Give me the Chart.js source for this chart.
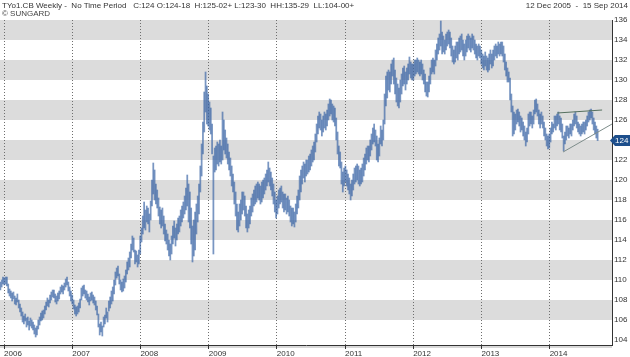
<!DOCTYPE html>
<html><head><meta charset="utf-8">
<script src="https://cdn.jsdelivr.net/npm/chart.js@4.4.1/dist/chart.umd.min.js"></script>
<style>
html,body{margin:0;padding:0;background:#fff;}
#wrap{position:relative;width:630px;height:357px;overflow:hidden;}
canvas{position:absolute;left:0;top:0;}
.hdr{position:absolute;font-family:"Liberation Sans",Arial,sans-serif;font-size:8px;color:#333;white-space:pre;line-height:9px;}
</style></head><body>
<div id="wrap">
<canvas id="c" width="630" height="357"></canvas>
<div class="hdr" style="left:2px;top:1px;">TYo1.CB Weekly -  No Time Period   C:124 O:124-18  H:125-02+ L:123-30  HH:135-29  LL:104-00+</div>
<div class="hdr" style="left:2px;top:9px;color:#444;">© SUNGARD</div>
<div class="hdr" style="right:2px;top:1px;">12 Dec 2005  -  15 Sep 2014</div>
</div>
<script>
// Weekly [low, high] ranges, one entry per week, starting at the given Monday
const y2005 = [[109.0,109.8],[109.3,110.0],[109.6,110.3]];
const y2006 = [[109.5,110.2],[109.6,110.3],[109.4,110.3],[108.7,109.6],[108.4,109.1],[108.2,108.9],[107.9,108.7],[108.1,108.8],[107.6,108.4],[107.5,108.2],[107.8,108.6],[107.2,108.0],[106.8,107.6],[106.4,107.2],[105.8,106.8],[105.6,106.4],[105.9,106.6],[105.3,106.2],[105.5,106.3],[105.0,105.9],[105.4,106.2],[105.2,106.0],[105.0,105.8],[104.6,105.5],[104.3,105.2],[104.5,105.4],[105.1,106.0],[105.5,106.3],[105.9,106.7],[106.0,106.9],[106.2,107.0],[106.6,107.4],[107.0,107.8],[107.4,108.2],[107.3,108.0],[107.7,108.5],[108.0,108.8],[108.3,109.0],[108.2,109.0],[107.8,108.6],[107.6,108.4],[107.9,108.7],[108.1,108.9],[108.6,109.3],[108.8,109.5],[108.6,109.4],[109.0,109.7],[109.3,110.1],[109.5,110.3],[108.9,109.8],[108.4,109.3],[107.9,108.9]];
const y2007 = [[107.6,108.5],[107.1,108.0],[106.6,107.5],[106.4,107.3],[106.6,107.4],[106.8,107.7],[107.2,108.1],[108.0,109.2],[108.4,109.4],[108.6,109.5],[108.2,109.0],[108.0,108.9],[107.8,108.6],[107.5,108.3],[107.9,108.7],[108.0,108.8],[107.7,108.5],[107.5,108.3],[107.0,107.9],[106.5,107.4],[105.3,106.6],[104.5,105.6],[104.8,105.8],[104.4,105.4],[105.3,106.3],[105.6,106.5],[106.2,107.2],[105.8,106.8],[106.9,107.9],[107.2,108.3],[107.6,108.9],[107.9,109.3],[108.6,110.0],[109.5,110.8],[110.2,111.2],[110.4,111.4],[109.6,110.6],[109.0,110.0],[108.8,109.8],[108.9,110.1],[109.2,110.4],[109.8,111.0],[110.6,111.8],[111.0,112.2],[111.3,112.8],[112.2,113.6],[113.0,114.4],[112.8,114.2],[111.6,113.0],[111.8,112.9],[111.3,112.5],[111.6,113.0]];
const y2008 = [[112.6,114.4],[113.8,115.2],[114.6,116.4],[115.2,117.8],[115.0,117.0],[115.8,117.4],[115.6,117.2],[114.8,116.6],[116.0,117.9],[117.4,120.0],[118.6,121.7],[118.0,121.0],[117.6,119.6],[117.2,119.0],[116.4,118.2],[115.6,117.3],[115.2,117.0],[115.4,117.2],[114.6,116.4],[113.9,115.6],[113.6,115.0],[113.0,114.6],[112.4,114.0],[112.0,113.6],[112.6,114.4],[113.6,115.4],[114.2,115.9],[113.4,115.2],[114.0,115.6],[114.6,116.2],[114.8,116.4],[115.4,117.0],[115.8,117.4],[116.2,117.8],[116.6,118.4],[117.0,119.2],[117.4,120.5],[115.8,119.6],[115.2,118.8],[113.6,117.2],[111.8,115.4],[112.4,116.0],[113.0,116.8],[114.6,117.6],[115.8,118.4],[116.6,119.6],[118.8,121.4],[120.4,123.6],[122.6,125.8],[124.8,128.8],[126.8,130.8],[125.6,129.4]];
const y2009 = [[125.4,128.6],[125.0,127.8],[124.6,127.2],[122.6,125.6],[112.6,122.4],[120.8,123.2],[121.0,123.4],[121.6,123.8],[121.4,123.6],[121.8,124.0],[121.6,123.4],[122.0,126.8],[123.0,126.0],[122.6,125.0],[122.2,124.2],[121.6,123.6],[121.0,122.8],[120.4,122.2],[119.4,121.4],[118.8,120.6],[117.6,119.8],[116.4,118.8],[115.0,117.6],[114.8,116.8],[115.4,117.6],[116.0,118.0],[116.6,118.8],[117.0,118.8],[116.4,118.4],[115.2,117.4],[114.8,116.6],[115.2,117.0],[115.6,117.4],[116.4,118.2],[116.8,118.6],[117.4,119.0],[117.6,119.4],[117.8,119.6],[118.2,119.8],[118.0,119.6],[117.6,119.4],[117.8,119.8],[118.2,120.0],[118.6,120.2],[119.0,120.6],[119.4,121.0],[119.8,121.8],[119.4,121.2],[119.0,120.8],[118.4,120.2],[117.6,119.6],[116.8,118.8]];
const y2010 = [[116.2,118.0],[116.6,118.4],[117.2,119.0],[117.6,119.2],[117.8,119.4],[117.2,118.8],[116.8,118.6],[117.0,118.6],[116.6,118.2],[116.8,118.4],[116.4,118.0],[115.8,117.4],[115.4,117.2],[115.6,117.2],[115.3,116.8],[115.8,117.6],[116.6,118.4],[117.2,119.0],[118.0,120.4],[118.8,121.0],[119.6,121.4],[120.2,121.8],[119.8,121.6],[120.4,122.0],[120.6,122.0],[120.8,122.4],[121.0,122.6],[121.4,123.0],[121.8,123.4],[122.0,123.8],[122.8,124.6],[123.8,125.6],[124.6,126.4],[125.2,126.8],[125.0,126.6],[124.4,126.0],[124.8,126.4],[125.2,126.8],[125.0,126.6],[125.4,127.0],[126.0,127.6],[126.4,128.1],[126.6,128.0],[126.0,127.6],[125.8,127.4],[125.4,127.2],[124.0,126.2],[122.6,124.8],[121.4,123.4],[121.2,122.8],[119.6,121.8],[118.8,120.8]];
const y2011 = [[119.4,121.2],[119.8,121.4],[119.4,121.0],[119.0,120.6],[118.6,120.2],[118.0,119.6],[118.4,120.0],[119.0,120.6],[119.6,121.2],[119.8,121.4],[120.0,121.6],[119.6,121.4],[119.4,121.0],[119.6,121.2],[119.8,121.6],[120.4,122.2],[121.0,122.6],[121.6,123.2],[122.0,123.4],[121.8,123.4],[122.4,124.0],[123.0,124.6],[123.6,125.2],[123.8,125.6],[123.4,125.0],[122.0,124.4],[121.8,123.6],[122.4,124.2],[123.6,125.4],[123.4,125.0],[124.0,126.0],[125.6,128.6],[127.4,130.4],[128.2,130.8],[129.0,131.0],[128.8,130.8],[129.6,131.6],[130.4,132.0],[129.6,132.2],[128.6,131.0],[127.8,130.2],[127.4,129.6],[127.2,129.2],[127.8,130.0],[128.6,130.6],[129.4,131.2],[129.6,131.4],[129.0,130.8],[129.6,131.2],[130.0,131.6],[130.6,132.3],[130.2,131.8],[130.0,131.6]];
const y2012 = [[130.0,131.6],[130.4,132.0],[130.6,132.0],[130.8,132.2],[130.6,132.0],[130.4,131.8],[130.6,132.0],[130.0,131.6],[129.6,131.0],[128.8,130.6],[128.4,129.8],[128.3,129.8],[128.8,130.4],[129.6,131.2],[130.6,132.0],[130.8,132.2],[130.6,132.0],[131.4,133.0],[132.0,133.6],[132.6,134.2],[133.0,134.6],[133.4,135.9],[132.6,134.8],[132.8,134.4],[132.6,134.0],[133.0,134.6],[133.4,134.8],[133.6,135.0],[133.2,134.8],[132.4,134.2],[131.8,133.4],[131.6,133.0],[131.8,133.4],[132.2,133.8],[132.0,133.8],[132.6,134.2],[132.8,134.4],[133.0,134.6],[132.4,134.0],[132.0,133.6],[132.4,134.0],[132.8,134.4],[133.2,134.6],[133.0,134.4],[132.8,134.2],[133.2,134.6],[133.0,134.4],[132.6,134.0],[132.2,133.6],[132.0,133.4],[132.4,133.6],[132.2,133.4]];
const y2013 = [[131.6,133.0],[131.2,132.6],[131.0,132.4],[131.4,132.8],[131.0,132.4],[130.8,132.2],[131.0,132.6],[131.6,133.0],[131.2,132.6],[131.4,133.0],[132.0,133.4],[132.4,133.6],[132.2,133.4],[132.6,133.8],[132.4,133.6],[132.6,133.8],[132.4,133.8],[131.8,133.4],[131.0,132.6],[130.4,131.8],[129.8,131.2],[129.8,130.8],[128.0,130.2],[126.8,128.6],[124.4,127.4],[124.6,126.8],[125.0,126.6],[125.6,127.0],[125.8,127.1],[125.4,126.8],[124.8,126.4],[125.0,126.2],[124.4,125.8],[124.0,125.4],[123.4,124.8],[123.8,125.2],[124.6,126.6],[125.4,126.8],[125.6,126.8],[125.2,126.4],[125.6,127.0],[126.6,128.0],[126.8,128.1],[126.4,127.6],[125.6,127.0],[125.2,126.6],[125.6,126.8],[125.2,126.4],[124.4,125.8],[124.0,125.2],[123.4,124.6],[123.1,124.4]];
const y2014 = [[123.2,124.6],[123.8,125.2],[124.6,125.8],[124.8,125.6],[125.2,126.4],[125.0,126.4],[125.4,126.6],[125.6,126.8],[125.0,126.4],[124.8,126.2],[124.2,125.6],[122.9,124.4],[123.6,124.8],[124.0,125.4],[124.4,125.4],[124.2,125.2],[124.6,125.6],[124.4,125.6],[125.0,126.0],[125.4,126.6],[125.6,126.8],[125.2,126.4],[124.8,125.8],[124.6,125.6],[124.4,125.4],[124.6,125.6],[124.8,125.8],[124.6,125.8],[125.0,126.0],[125.4,126.4],[125.8,126.8],[126.0,127.0],[126.2,127.1],[125.6,126.8],[125.0,126.2],[124.6,125.8],[124.2,125.4],[123.94,125.08]];

const segments = [
  ['2005-12-12', y2005], ['2006-01-02', y2006], ['2007-01-01', y2007],
  ['2007-12-31', y2008], ['2008-12-29', y2009], ['2009-12-28', y2010],
  ['2010-12-27', y2011], ['2012-01-02', y2012], ['2012-12-31', y2013],
  ['2013-12-30', y2014]
];

const yearLabels = ['2006','2007','2008','2009','2010','2011','2012','2013','2014'];
const yTickValues = [104,106,108,110,112,114,116,118,120,122,124,126,128,130,132,134,136];
const shadedBands = [[106,108],[110,112],[114,116],[118,120],[122,124],[126,128],[130,132],[134,136]];
const lastClose = 124;
const upperTrend = [['2014-02-10',126.7],['2014-10-09',127.0]];
const lowerTrend = [['2014-03-14',122.8],['2014-12-01',125.6]];
const xRange = ['2005-12-10','2014-12-01'];
const yRange = [103.5, 136];

const DAY = 86400000;
const dayNum = s => Date.UTC(+s.slice(0,4), +s.slice(5,7)-1, +s.slice(8,10)) / DAY;

const barPoints = [];
segments.forEach(([start, arr]) => {
  const d0 = dayNum(start);
  arr.forEach((r, i) => barPoints.push({x: d0 + 7*i, y: r}));
});
const trendPts = t => t.map(([d, v]) => ({x: dayNum(d), y: v}));

const bandsPlugin = {
  id: 'bands',
  beforeDraw(chart) {
    const {ctx, chartArea: a, scales: {y}} = chart;
    ctx.save();
    ctx.fillStyle = '#dcdcdc';
    shadedBands.forEach(([lo, hi]) => {
      const y1 = y.getPixelForValue(hi), y2 = y.getPixelForValue(lo);
      ctx.fillRect(a.left, y1, a.right - a.left, y2 - y1);
    });
    ctx.fillStyle = '#d8d8d8';
    ctx.fillRect(a.left, a.bottom + 1, a.right - a.left, 2);
    ctx.restore();
  }
};

const tagPlugin = {
  id: 'lastTag',
  afterDraw(chart) {
    const {ctx, chartArea: a, scales: {y}} = chart;
    const py = Math.round(y.getPixelForValue(lastClose)) + 0.5;
    const x0 = a.right - 2;
    ctx.save();
    ctx.fillStyle = '#1d4f8c';
    ctx.beginPath();
    ctx.moveTo(x0, py);
    ctx.lineTo(x0 + 5, py - 5.5);
    ctx.lineTo(630, py - 5.5);
    ctx.lineTo(630, py + 5.5);
    ctx.lineTo(x0 + 5, py + 5.5);
    ctx.closePath();
    ctx.fill();
    ctx.fillStyle = '#ffffff';
    ctx.font = '8px "Liberation Sans", Arial, sans-serif';
    ctx.textBaseline = 'middle';
    ctx.textAlign = 'left';
    ctx.fillText(String(lastClose), x0 + 5, py + 0.5);
    ctx.restore();
  }
};

new Chart(document.getElementById('c'), {
  type: 'bar',
  data: {
    datasets: [
      {type: 'bar', data: barPoints, backgroundColor: 'rgba(58,100,165,0.68)', borderWidth: 0, barThickness: 1.1, order: 2},
      {type: 'line', data: trendPts(upperTrend), borderColor: '#55705f', borderWidth: 1, pointRadius: 0, fill: false, order: 1},
      {type: 'line', data: trendPts(lowerTrend), borderColor: '#7d8c8a', borderWidth: 1, pointRadius: 0, fill: false, order: 1}
    ]
  },
  options: {
    responsive: false,
    maintainAspectRatio: false,
    animation: false,
    events: [],
    layout: {padding: {top: 20, left: 0, right: 0, bottom: 0}},
    plugins: {legend: {display: false}, tooltip: {enabled: false}, title: {display: false}},
    scales: {
      x: {
        type: 'linear',
        min: dayNum(xRange[0]),
        max: dayNum(xRange[1]),
        offset: false,
        grid: {display: true, drawOnChartArea: true, drawTicks: true, offset: false, color: '#6e6e6e', lineWidth: 1, tickLength: 4, tickColor: '#333', tickWidth: 1},
        border: {display: true, color: '#333', width: 1, dash: [1, 2]},
        ticks: {
          align: 'start',
          padding: 0,
          maxRotation: 0,
          autoSkip: false,
          color: '#333',
          font: {family: '"Liberation Sans", Arial, sans-serif', size: 8},
          callback: (v, i) => yearLabels[i]
        },
        afterBuildTicks: s => { s.ticks = yearLabels.map(y => ({value: dayNum(y + '-01-01')})); },
        afterFit: s => { s.height = 12; }
      },
      y: {
        position: 'right',
        min: yRange[0],
        max: yRange[1],
        grid: {display: false, drawTicks: false},
        border: {display: true, color: '#333', width: 1},
        ticks: {
          padding: 2,
          color: '#333',
          font: {family: '"Liberation Sans", Arial, sans-serif', size: 8},
          callback: v => String(v)
        },
        afterBuildTicks: s => { s.ticks = yTickValues.map(v => ({value: v})); },
        afterFit: s => { s.width = 18; }
      }
    }
  },
  plugins: [bandsPlugin, tagPlugin]
});
</script>
</body></html>
